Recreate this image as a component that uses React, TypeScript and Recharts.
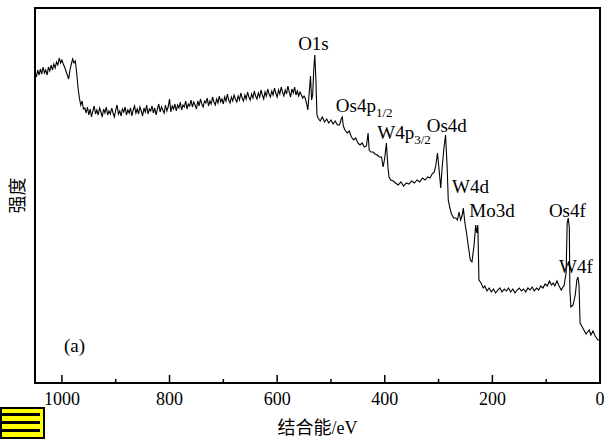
import {
  LineChart,
  Line,
  XAxis,
  YAxis,
  ReferenceArea,
  ReferenceDot,
} from 'recharts'

// binding energy (eV) and intensity (a.u.)
const bindingEnergy = [
  1050, 1047.5, 1045, 1042.5, 1040, 1037.5, 1035, 1032.5, 1030, 1027.5,
  1025, 1022.5, 1020, 1017.5, 1015, 1012.5, 1010, 1007.5, 1005, 1002.5,
  1000, 997.5, 995, 992.5, 990, 987.5, 985, 982.5, 980, 977.5, 975,
  972.5, 970, 967.5, 965, 962.5, 960,
  957.5, 955, 952.5, 950, 947.5, 945, 942.5, 940, 937.5, 935,
  932.5, 930, 927.5, 925, 922.5, 920, 917.5, 915, 912.5, 910,
  907.5, 905, 902.5, 900, 897.5, 895, 892.5, 890, 887.5, 885,
  882.5, 880, 877.5, 875, 872.5, 870, 867.5, 865, 862.5, 860,
  857.5, 855, 852.5, 850, 847.5, 845, 842.5, 840, 837.5, 835,
  832.5, 830, 827.5, 825, 822.5, 820, 817.5, 815, 812.5, 810,
  807.5, 805, 802.5, 800, 797.5, 795, 792.5, 790, 787.5, 785,
  782.5, 780, 777.5, 775, 772.5, 770, 767.5, 765, 762.5, 760,
  757.5, 755, 752.5, 750, 747.5, 745, 742.5, 740, 737.5, 735,
  732.5, 730, 727.5, 725, 722.5, 720, 717.5, 715, 712.5, 710,
  707.5, 705, 702.5, 700, 697.5, 695, 692.5, 690, 687.5, 685,
  682.5, 680, 677.5, 675, 672.5, 670, 667.5, 665, 662.5, 660,
  657.5, 655, 652.5, 650, 647.5, 645, 642.5, 640, 637.5, 635,
  632.5, 630, 627.5, 625, 622.5, 620, 617.5, 615, 612.5, 610,
  607.5, 605, 602.5, 600, 597.5, 595, 592.5, 590, 587.5, 585,
  582.5, 580, 577.5, 575, 572.5, 570, 567.5, 565, 562.5, 560,
  557.5, 555, 552.5, 550,
  548, 545, 543, 540, 538, 536, 534, 532, 530, 528, 526,
  524, 520, 516, 512, 508, 504, 500, 496, 492, 488,
  484, 481, 479, 477, 474, 470, 466, 462, 458, 454,
  450, 446, 442, 438, 434, 431, 429, 426, 422, 418,
  414, 410, 406, 403, 400, 397, 394, 392, 389, 384,
  380, 375, 370, 365, 360, 355, 350, 345, 340, 335,
  330, 325, 320, 316, 312, 308, 305, 302, 299, 296,
  293, 290, 287, 284, 282, 279, 276, 272, 268, 265,
  262, 259, 256, 254, 251, 248, 245, 241, 238, 234,
  231, 229, 227, 225,
  221, 217, 214, 210, 206, 202, 198, 194, 190, 186,
  182, 178, 174, 170, 166, 162, 158, 154, 150, 146,
  142, 138, 134, 130, 126, 122, 118, 114, 110, 106,
  102, 98, 94, 90, 87, 84, 80, 76, 72, 69, 67,
  66, 63, 61, 59, 57, 56, 54, 50, 46, 43,
  41, 39, 37, 32, 26, 20, 17, 13, 9, 4, 0,
]

const intensity = [
  311, 306, 313, 308, 314, 309, 316, 310, 313, 308,
  316, 312, 318, 313, 319, 315, 321, 318, 325, 320,
  323, 319, 316, 312, 308, 304, 313, 319, 324, 320, 322,
  310, 295, 285, 278, 282, 274,
  275, 270, 276, 268, 274, 266, 272, 277, 269, 273,
  268, 275, 271, 266, 274, 270, 276, 268, 272, 269,
  275, 270, 266, 273, 278, 269, 272, 267, 274, 271,
  276, 268, 273, 270, 275, 267, 273, 277, 270, 274,
  269, 276, 272, 267, 275, 271, 278, 269, 274, 272,
  277, 270, 275, 268, 274, 279, 271, 276, 273, 270,
  278, 272, 276, 284, 271, 277, 274, 279, 272, 278,
  275, 281, 273, 278, 276, 282, 274, 279, 277, 283,
  276, 281, 278, 274, 282, 277, 284, 279, 276, 282,
  280, 285, 277, 282, 279, 286, 281, 278, 284, 280,
  287, 281, 284, 279, 286, 282, 289, 283, 280, 286,
  282, 288, 284, 281, 287, 283, 290, 285, 282, 288,
  284, 291, 286, 283, 289, 285, 292, 287, 284, 290,
  286, 293, 288, 284, 291, 287, 294, 289, 286, 292,
  288, 295, 290, 286, 293, 289, 296, 291, 287, 293,
  289, 297, 291, 286, 294, 290, 296, 288, 292, 287,
  291, 288, 285, 287,
  285, 279, 273, 293, 307, 283, 288, 313, 328, 303, 268,
  265, 262, 266, 261, 264, 260, 263, 259, 262, 258,
  258, 264, 266, 257, 253, 250, 252, 246, 243, 245,
  240, 238, 240, 236, 237, 250, 233, 231, 231, 229,
  228, 226, 226, 216, 225, 240, 215, 206, 203, 202,
  200, 198, 201, 197, 200, 199, 202, 200, 203, 201,
  205, 203, 206, 205, 209, 211, 218, 230, 213, 195,
  218, 235, 248, 215, 183, 175, 169, 165, 165, 163,
  171, 163, 168, 175, 160, 150, 138, 123, 121, 138,
  158, 150, 158, 103,
  100, 95, 97, 92, 95, 91, 94, 90, 93, 95,
  91, 94, 92, 95, 91, 94, 90, 93, 95, 92,
  94, 91, 95, 93, 96, 92, 95, 93, 97, 95,
  99, 97, 102, 98, 100, 97, 102, 97, 93, 96, 97,
  100, 110, 160, 165, 155, 93, 76, 78, 88, 103,
  106, 98, 60, 55, 49, 53, 48, 52, 47, 43, 43,
]

const xTicks = [0, 100, 200, 300, 400, 500, 600, 700, 800, 900, 1000]

// peak labels: text, subscript, anchor (left edge / baseline) in data units
const peakText = ['O1s', 'Os4p', 'W4p', 'Os4d', 'W4d', 'Mo3d', 'Os4f', 'W4f', '(a)']
const peakSub = ['', '1/2', '3/2', '', '', '', '', '', '']
const peakE = [561, 491, 414, 322, 275, 243, 95, 76, 996]
const peakV = [333, 271, 244, 251, 190, 166, 166, 110, 31]

const data = bindingEnergy.map((e, i) => ({ e, v: intensity[i] }))
const peaks = peakText.map((t, i) => ({ t, sub: peakSub[i], e: peakE[i], v: peakV[i] }))

const serif = "'Liberation Serif', 'Noto Sans CJK SC', serif"

function EnergyTick({ x, y, payload }: any) {
  const major = payload.value % 200 === 0
  return (
    <g>
      <line x1={x} x2={x} y1={y} y2={y - (major ? 8 : 4)} stroke="#000" strokeWidth={1.5} />
      {major && (
        <text x={x} y={y + 22} textAnchor="middle" fontSize={18} fontFamily={serif} fill="#000">
          {payload.value}
        </text>
      )}
    </g>
  )
}

export default function App() {
  return (
    <div style={{ position: 'absolute', left: 0, top: 0, width: 604, height: 439, background: '#fff' }}>
      <LineChart width={604} height={439} data={data} margin={{ top: 8, right: 4, left: 0, bottom: 0 }}>
        <XAxis
          dataKey="e"
          type="number"
          domain={[0, 1050]}
          reversed
          allowDataOverflow
          ticks={xTicks}
          interval={0}
          tick={<EnergyTick />}
          tickSize={0}
          tickMargin={0}
          tickLine={false}
          axisLine={false}
          height={56}
          label={{
            value: '结合能/eV',
            position: 'insideBottom',
            offset: 5,
            fill: '#000',
            fontSize: 18,
            fontFamily: serif,
          }}
        />
        <YAxis
          type="number"
          domain={[0, 375]}
          allowDataOverflow
          width={35}
          tick={false}
          tickLine={false}
          axisLine={false}
          label={{ value: '强度', angle: -90, position: 'center', fill: '#000', fontSize: 18, fontFamily: serif }}
        />
        <ReferenceArea x1={0} x2={1050} y1={0} y2={375} fill="none" stroke="#000" strokeWidth={2} />
        <Line
          type="linear"
          dataKey="v"
          stroke="#000"
          strokeWidth={1.1}
          dot={false}
          isAnimationActive={false}
        />
        {peaks.map((p) => (
          <ReferenceDot
            key={p.t}
            x={p.e}
            y={p.v}
            r={0}
            shape={(props: any) => (
              <text x={props.cx} y={props.cy} fontSize={19} fontFamily={serif} fill="#000">
                {p.t}
                {p.sub && (
                  <tspan fontSize={13} dy={5}>
                    {p.sub}
                  </tspan>
                )}
              </text>
            )}
          />
        ))}
      </LineChart>
      <div
        style={{
          position: 'absolute',
          left: 0,
          top: 407,
          width: 41,
          height: 28,
          background: '#ffff00',
          border: '2px solid #000',
        }}
      >
        {[4, 12, 20].map((t) => (
          <div key={t} style={{ position: 'absolute', left: 0, top: t, width: 38, height: 3, background: '#000' }} />
        ))}
      </div>
    </div>
  )
}
